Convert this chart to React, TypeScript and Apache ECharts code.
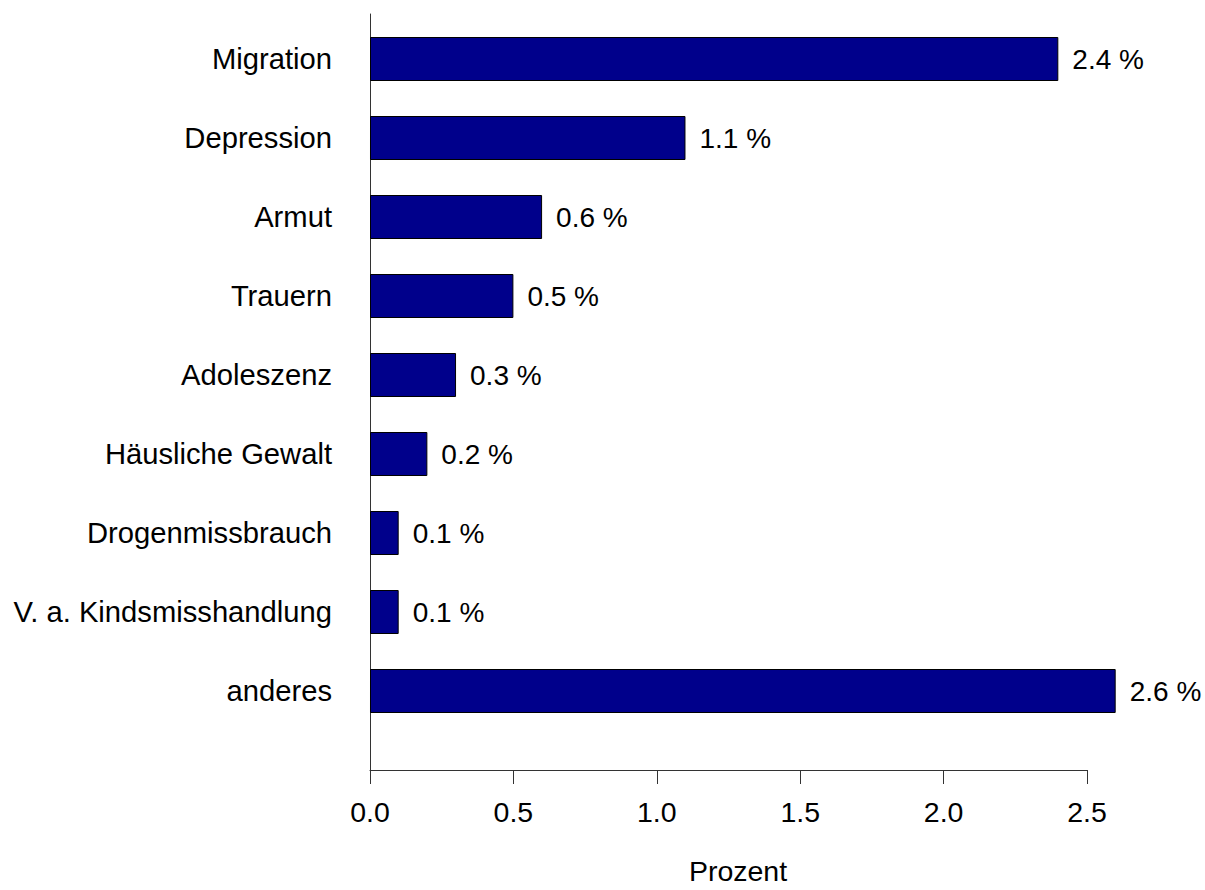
import React, { useEffect, useRef } from "react";
import * as echarts from "echarts";

const categories = [
  "Migration",
  "Depression",
  "Armut",
  "Trauern",
  "Adoleszenz",
  "Häusliche Gewalt",
  "Drogenmissbrauch",
  "V. a. Kindsmisshandlung",
  "anderes",
];
const values = [2.4, 1.1, 0.6, 0.5, 0.3, 0.2, 0.1, 0.1, 2.6];
const xMin = 0;
const xMax = 2.5;
const xInterval = 0.5;
const xName = "Prozent";

export default function App() {
  const ref = useRef<HTMLDivElement>(null);
  useEffect(() => {
    if (!ref.current) return;
    const chart = echarts.init(ref.current, undefined, { renderer: "svg" });
    const font = "'Liberation Sans', Arial, sans-serif";
    const axisColor = "#333";
    chart.setOption({
      animation: false,
      backgroundColor: "#fff",
      textStyle: { fontFamily: font },
      grid: [
        { left: 370, right: 118, top: 19.5, height: 711 },
        { left: 370, right: 118, top: 14, bottom: 111 },
      ],
      xAxis: [
        { gridIndex: 0, type: "value", min: xMin, max: xMax, show: false },
        {
          gridIndex: 1,
          type: "value",
          min: xMin,
          max: xMax,
          interval: xInterval,
          axisLine: { show: true, lineStyle: { color: axisColor, width: 1 } },
          axisTick: { show: true, length: 14, lineStyle: { color: axisColor } },
          axisLabel: {
            fontSize: 28.5,
            color: "#000",
            margin: 27,
            fontFamily: font,
            formatter: (v: number) => v.toFixed(1),
          },
          splitLine: { show: false },
          name: xName,
          nameLocation: "middle",
          nameGap: 86,
          nameTextStyle: { fontSize: 28.5, color: "#000", fontFamily: font, padding: [0, 0, 0, 19] },
        },
      ],
      yAxis: [
        {
          gridIndex: 0,
          type: "category",
          data: categories,
          inverse: true,
          axisLine: { show: false },
          axisTick: { show: false },
          axisLabel: { fontSize: 29.2, color: "#000", margin: 38, fontFamily: font },
        },
        {
          gridIndex: 1,
          type: "value",
          min: 0,
          max: 1,
          axisLine: { show: true, lineStyle: { color: axisColor, width: 1 } },
          axisTick: { show: false },
          axisLabel: { show: false },
          splitLine: { show: false },
        },
      ],
      series: [
        {
          type: "bar",
          xAxisIndex: 0,
          yAxisIndex: 0,
          data: values,
          barWidth: 44,
          clip: false,
          itemStyle: { color: "#00008B", borderColor: "#000", borderWidth: 1 },
          label: {
            show: true,
            position: "right",
            distance: 14,
            formatter: "{c} %",
            fontSize: 28,
            color: "#000",
            fontFamily: font,
          },
        },
      ],
    });
    return () => chart.dispose();
  }, []);
  return (
    <div
      ref={ref}
      style={{ position: "absolute", left: 0, top: 0, width: 1205, height: 890 }}
    />
  );
}
